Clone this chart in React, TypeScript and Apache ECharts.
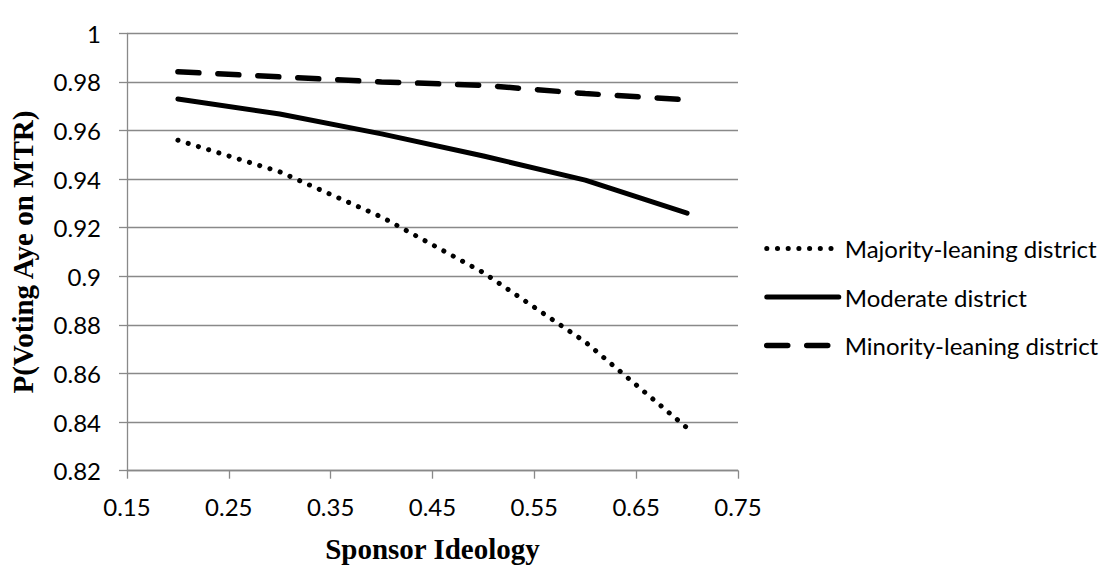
import React, { useEffect, useRef } from "react";
import * as echarts from "echarts";

const xValues = [0.2, 0.3, 0.4, 0.5, 0.6, 0.7];
const seriesNames = ["Majority-leaning district", "Moderate district", "Minority-leaning district"];
const majority = [0.956, 0.943, 0.9244, 0.9015, 0.873, 0.8376];
const moderate = [0.973, 0.9668, 0.9586, 0.9495, 0.9396, 0.926];
const minority = [0.9842, 0.9821, 0.98, 0.9786, 0.9752, 0.9726];
const xTitle = "Sponsor Ideology";
const yTitle = "P(Voting Aye on MTR)";

const pair = (vals: number[]) => xValues.map((x, i) => [x, vals[i]]);

export default function App() {
  const ref = useRef<HTMLDivElement>(null);
  useEffect(() => {
    if (!ref.current) return;
    const chart = echarts.init(ref.current, null, { renderer: "svg" });
    const gray = "#898989";
    const labelFont = { fontFamily: "Lato", fontSize: 24, color: "#000" };
    const titleFont = { fontFamily: "Liberation Serif", fontWeight: "bold" as const, fontSize: 29, color: "#000" };
    const dotted = { color: "#000", width: 5, type: [0.1, 10.6], cap: "round" };
    const solid = { color: "#000", width: 5, type: "solid", cap: "round" };
    const dashed = { color: "#000", width: 5.5, type: [21, 19], cap: "round" };
    chart.setOption({
      animation: false,
      backgroundColor: "#fff",
      grid: { left: 125, right: 373, top: 33.3, bottom: 100.3, containLabel: false },
      xAxis: {
        type: "value",
        min: 0.15,
        max: 0.75,
        interval: 0.1,
        name: xTitle,
        nameLocation: "middle",
        nameGap: 64,
        nameTextStyle: { ...titleFont, verticalAlign: "top" },
        axisLine: { show: true, lineStyle: { color: gray, width: 1.3 } },
        axisTick: { show: true, length: 8, lineStyle: { color: gray, width: 1.3 } },
        axisLabel: { ...labelFont, margin: 24, formatter: (v: number) => v.toFixed(2) },
        splitLine: { show: false },
      },
      yAxis: {
        type: "value",
        min: 0.82,
        max: 1,
        interval: 0.02,
        name: yTitle,
        nameLocation: "middle",
        nameGap: 90,
        nameRotate: 90,
        nameTextStyle: titleFont,
        axisLine: { show: true, lineStyle: { color: gray, width: 1.3 } },
        axisTick: { show: true, length: 8, lineStyle: { color: gray, width: 1.3 } },
        axisLabel: {
          ...labelFont,
          margin: 26,
          formatter: (v: number) => String(parseFloat(v.toFixed(2))),
        },
        splitLine: { show: true, lineStyle: { color: gray, width: 1.3 } },
      },
      legend: {
        orient: "vertical",
        left: 764,
        top: 236.5,
        padding: 0,
        itemWidth: 72,
        itemHeight: 24,
        itemGap: 24.5,
        itemStyle: { opacity: 0 },
        textStyle: { fontFamily: "Lato", fontSize: 24, lineHeight: 24, color: "#000", padding: [0, 0, 0, 1] },
        data: [
          { name: seriesNames[0], lineStyle: dotted },
          { name: seriesNames[1], lineStyle: solid },
          { name: seriesNames[2], lineStyle: dashed },
        ],
      },
      series: [
        {
          name: seriesNames[0],
          type: "line",
          data: pair(majority),
          symbol: "none",
          lineStyle: dotted,
          itemStyle: { color: "#000" },
        },
        {
          name: seriesNames[1],
          type: "line",
          data: pair(moderate),
          symbol: "none",
          lineStyle: solid,
          itemStyle: { color: "#000" },
        },
        {
          name: seriesNames[2],
          type: "line",
          data: pair(minority),
          symbol: "none",
          lineStyle: dashed,
          itemStyle: { color: "#000" },
        },
      ],
    });
    return () => chart.dispose();
  }, []);
  return (
    <div
      ref={ref}
      style={{ position: "fixed", left: 0, top: 0, width: 1111, height: 571, background: "#fff" }}
    />
  );
}
